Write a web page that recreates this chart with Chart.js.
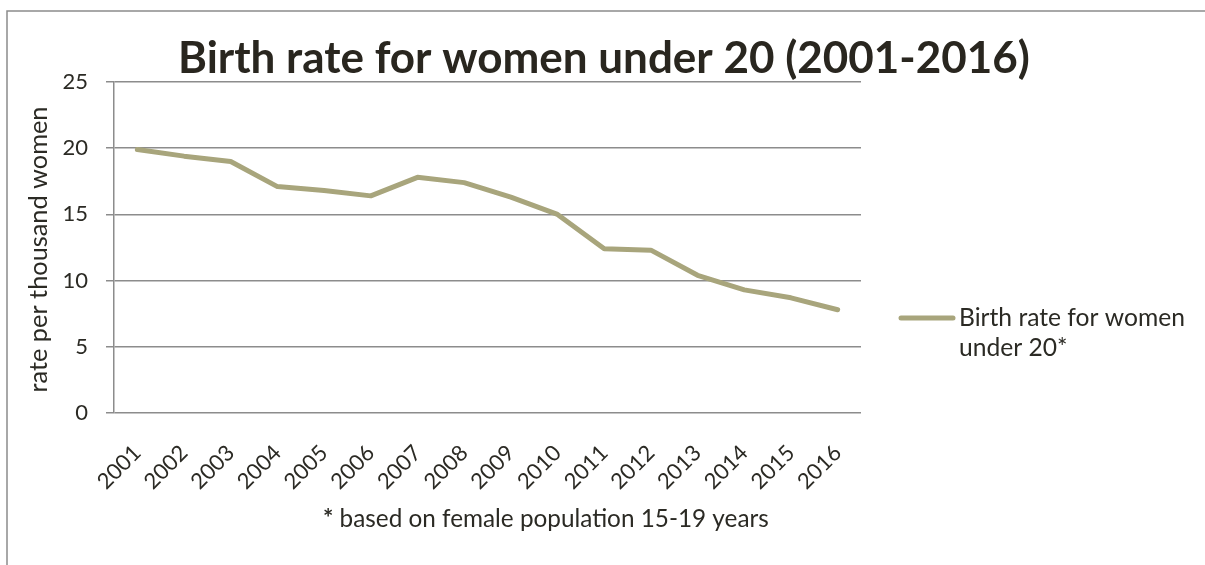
<!DOCTYPE html>
<html>
<head>
<meta charset="utf-8">
<script src="https://cdn.jsdelivr.net/npm/chart.js@4"></script>
<style>
  html, body { margin: 0; padding: 0; background: #ffffff; }
  #wrap { width: 1205px; height: 565px; }
</style>
</head>
<body>
<div id="wrap"><canvas id="c" width="1205" height="565"></canvas></div>
<script>
const categories = ['2001','2002','2003','2004','2005','2006','2007','2008','2009','2010','2011','2012','2013','2014','2015','2016'];
const birthRates = [19.9, 19.4, 19.0, 17.1, 16.8, 16.4, 17.8, 17.4, 16.3, 15.0, 12.4, 12.3, 10.4, 9.3, 8.7, 7.8];
const yTickValues = [0, 5, 10, 15, 20, 25];
const titleText = 'Birth rate for women under 20 (2001-2016)';
const yAxisTitle = 'rate per thousand women';
const legendLines = ['Birth rate for women', 'under 20*'];
const footnoteStar = '*';
const footnoteText = ' based on female population 15-19 years';

const FONT = 'Lato, "Open Sans", sans-serif';
const TEXT = '#2b2a24';
const GRID = '#8c8c8c';
const LINE = '#a8a57c';

function fitSize(ctx, text, weight, target) {
  ctx.font = weight + ' 100px ' + FONT;
  return 100 * target / ctx.measureText(text).width;
}

const deco = {
  id: 'deco',
  afterDraw(chart) {
    const ctx = chart.ctx;
    const ca = chart.chartArea;
    ctx.save();
    // outer frame (top & left visible)
    ctx.strokeStyle = GRID;
    ctx.lineWidth = 1.5;
    ctx.beginPath();
    ctx.moveTo(7, 565);
    ctx.lineTo(7, 11);
    ctx.lineTo(1205, 11);
    ctx.stroke();

    // title
    let s = fitSize(ctx, titleText, 'bold', 852);
    ctx.font = 'bold ' + s + 'px ' + FONT;
    ctx.fillStyle = '#29261f';
    ctx.textAlign = 'center';
    ctx.textBaseline = 'alphabetic';
    ctx.fillText(titleText, 604, 73);

    // y axis title
    s = fitSize(ctx, yAxisTitle, 'normal', 286);
    ctx.font = 'normal ' + s + 'px ' + FONT;
    ctx.fillStyle = TEXT;
    ctx.save();
    ctx.translate(47, (ca.top + ca.bottom) / 2 + 2);
    ctx.rotate(-Math.PI / 2);
    ctx.textAlign = 'center';
    ctx.textBaseline = 'alphabetic';
    ctx.fillText(yAxisTitle, 0, 0);
    ctx.restore();

    // legend
    const ds = chart.data.datasets[0];
    ctx.strokeStyle = ds.borderColor;
    ctx.lineWidth = ds.borderWidth;
    ctx.lineCap = 'round';
    ctx.beginPath();
    ctx.moveTo(901, 318);
    ctx.lineTo(953, 318);
    ctx.stroke();
    s = fitSize(ctx, legendLines[0], 'normal', 226);
    ctx.font = 'normal ' + s + 'px ' + FONT;
    ctx.fillStyle = TEXT;
    ctx.textAlign = 'left';
    ctx.fillText(legendLines[0], 959, 326);
    ctx.fillText(legendLines[1], 959, 356);

    // footnote
    ctx.font = 'normal 100px ' + FONT;
    const wRest = ctx.measureText(footnoteText).width;
    ctx.font = 'bold 100px ' + FONT;
    const wStar = ctx.measureText(footnoteStar).width;
    s = 100 * 446 / (wRest + wStar);
    const x0 = 323;
    ctx.font = 'bold ' + s + 'px ' + FONT;
    ctx.fillText(footnoteStar, x0, 527);
    ctx.font = 'normal ' + s + 'px ' + FONT;
    ctx.fillText(footnoteText, x0 + wStar * s / 100, 527);
    ctx.restore();
  }
};

new Chart(document.getElementById('c'), {
  type: 'line',
  data: {
    labels: categories,
    datasets: [{
      label: legendLines.join(' '),
      data: birthRates,
      borderColor: LINE,
      backgroundColor: LINE,
      borderWidth: 5,
      pointRadius: 0,
      pointHoverRadius: 0,
      tension: 0,
      borderCapStyle: 'round',
      borderJoinStyle: 'round',
      fill: false
    }]
  },
  options: {
    responsive: false,
    animation: false,
    events: [],
    layout: { padding: { left: 0, top: 82, right: 344, bottom: 0 } },
    plugins: {
      legend: { display: false },
      title: { display: false },
      tooltip: { enabled: false }
    },
    scales: {
      x: {
        type: 'category',
        offset: true,
        grid: { display: false, drawTicks: false },
        border: { display: false },
        ticks: {
          autoSkip: false,
          maxRotation: 45,
          minRotation: 45,
          padding: 27,
          color: TEXT,
          font: { family: FONT, size: 22 }
        },
        afterFit(scale) { scale.height = 152; }
      },
      y: {
        min: 0,
        max: 25,
        afterBuildTicks(scale) { scale.ticks = yTickValues.map(v => ({ value: v })); },
        grid: { color: GRID, lineWidth: 1.5, tickLength: 8, drawTicks: true },
        border: { display: true, color: GRID, width: 1.5 },
        ticks: {
          padding: 18,
          color: TEXT,
          font: { family: FONT, size: 22 }
        },
        afterFit(scale) { scale.width = 114; }
      }
    }
  },
  plugins: [deco]
});
</script>
</body>
</html>
